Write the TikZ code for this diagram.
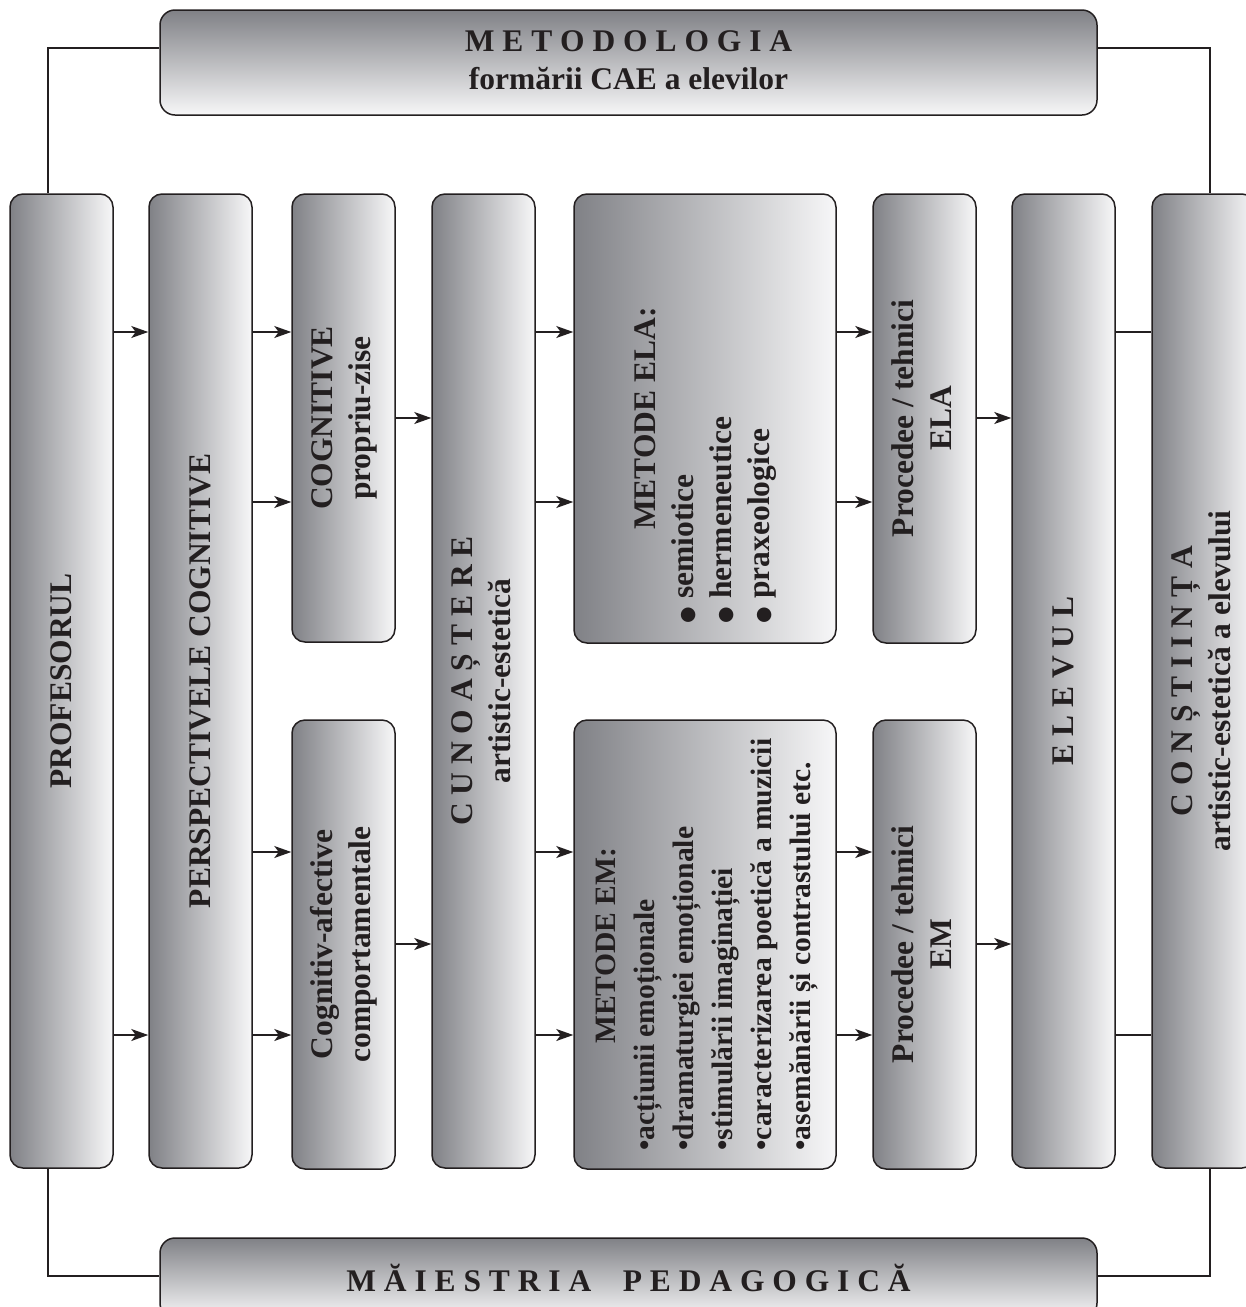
\documentclass[tikz,border=0pt]{standalone}
\usepackage{fontspec}
\setmainfont{Liberation Serif}
\newfontfamily\dejavu{DejaVu Sans}
\usepackage{graphicx}
\usetikzlibrary{arrows.meta}
\definecolor{ink}{RGB}{35,31,32}
\definecolor{gdark}{RGB}{128,129,134}
\definecolor{glight}{RGB}{247,247,248}
\newcommand{\fB}{\fontsize{31.5}{38}\selectfont\bfseries}
\newcommand{\fM}{\fontsize{29.6}{39}\selectfont\bfseries}
\newcommand{\bul}{{\dejavu\fontsize{19}{19}\selectfont ●}}
\begin{document}
\begin{tikzpicture}[x=1pt,y=-1pt,
  colbox/.style={draw=ink, line width=1.5pt, rounded corners=13pt,
    left color=gdark, right color=glight, inner sep=0pt, text=ink},
  hbox/.style={draw=ink, line width=1.5pt, rounded corners=15pt,
    top color=gdark, bottom color=glight, inner sep=0pt, text=ink},
  arr/.style={draw=ink, line width=1.4pt, -{Stealth[length=17pt,width=12pt,inset=4.5pt]}},
  ln/.style={draw=ink, line width=1.5pt}]
\useasboundingbox (0,0) rectangle (1246,1307);
\clip (0,0) rectangle (1246,1307);

% row coordinates
\coordinate (yA) at (0,332);
\coordinate (yB) at (0,502);
\coordinate (yC) at (0,418);
\coordinate (yD) at (0,852);
\coordinate (yE) at (0,1035);
\coordinate (yF) at (0,944);
\coordinate (tY) at (0,48);
\coordinate (bY) at (0,1276);
\coordinate (cL) at (48,0);
\coordinate (cR) at (1210,0);

% header and footer boxes
\node[hbox, minimum width=937pt, minimum height=105pt] (top) at (628.5,62.5)
  {\fB\begin{tabular}{@{}c@{}}M E T O D O L O G I A\\ formării CAE a elevilor\end{tabular}};
\node[hbox, minimum width=937pt, minimum height=80pt] (bot) at (628.5,1278)
  {\fB M Ă I E S T R I A\ \ \ \ P E D A G O G I C Ă};

% columns
\node[colbox, minimum width=103pt, minimum height=974pt] (prof) at (61.5,681)
  {\rotatebox{90}{\fB PROFESORUL}};
\node[colbox, minimum width=103pt, minimum height=974pt] (persp) at (200.5,681)
  {\rotatebox{90}{\fB PERSPECTIVELE COGNITIVE}};
\node[colbox, minimum width=103pt, minimum height=448pt] (cogA) at (343.5,418)
  {\rotatebox{90}{\fB\begin{tabular}{@{}c@{}}COGNITIVE\\ propriu-zise\end{tabular}}};
\node[colbox, minimum width=103pt, minimum height=449pt] (cogB) at (343.5,944.5)
  {\rotatebox{90}{\fB\begin{tabular}{@{}c@{}}Cognitiv-afective\\ comportamentale\end{tabular}}};
\node[colbox, minimum width=103pt, minimum height=974pt] (cuno) at (483.5,681)
  {\rotatebox{90}{\fB\begin{tabular}{@{}c@{}}C U N O A Ș T E R E\\ artistic-estetică\end{tabular}}};
\node[colbox, minimum width=262pt, minimum height=449pt] (ela) at (705,418.5)
  {\rotatebox{90}{\fB\begin{tabular}{@{}l@{}}\makebox[409pt][c]{METODE ELA:}\\
     \bul\ semiotice\\ \bul\ hermeneutice\\ \bul\ praxeologice\end{tabular}}};
\node[colbox, minimum width=262pt, minimum height=449pt] (em) at (705,944.5)
  {\rotatebox{90}{\fM\begin{tabular}{@{}l@{}}\makebox[409pt][c]{METODE EM:}\\
     •acțiunii emoționale\\ •dramaturgiei emoționale\\ •stimulării imaginației\\
     •caracterizarea poetică a muzicii\\ •asemănării și contrastului etc.\end{tabular}}};
\node[colbox, minimum width=103pt, minimum height=449pt] (procA) at (924.5,418.5)
  {\rotatebox{90}{\fB\begin{tabular}{@{}c@{}}Procedee / tehnici\\ ELA\end{tabular}}};
\node[colbox, minimum width=103pt, minimum height=449pt] (procB) at (924.5,944.5)
  {\rotatebox{90}{\fB\begin{tabular}{@{}c@{}}Procedee / tehnici\\ EM\end{tabular}}};
\node[colbox, minimum width=103pt, minimum height=974pt] (elev) at (1063.5,681)
  {\rotatebox{90}{\fB E L E V U L}};
\node[colbox, minimum width=103pt, minimum height=974pt] (cons) at (1203.5,681)
  {\rotatebox{90}{\fB\begin{tabular}{@{}c@{}}C O N Ș T I I N Ț A\\ artistic-estetică a elevului\end{tabular}}};

% frame connectors
\draw[ln] (top.west |- tY) -| (prof.north -| cL);
\draw[ln] (top.east |- tY) -| (cons.north -| cR);
\draw[ln] (prof.south -| cL) |- (bot.west |- bY);
\draw[ln] (cons.south -| cR) |- (bot.east |- bY);

% arrows
\draw[arr] (prof.east |- yA) -- (persp.west |- yA);
\draw[arr] (prof.east |- yE) -- (persp.west |- yE);
\draw[arr] (persp.east |- yA) -- (cogA.west |- yA);
\draw[arr] (persp.east |- yB) -- (cogA.west |- yB);
\draw[arr] (persp.east |- yD) -- (cogB.west |- yD);
\draw[arr] (persp.east |- yE) -- (cogB.west |- yE);
\draw[arr] (cogA.east |- yC) -- (cuno.west |- yC);
\draw[arr] (cogB.east |- yF) -- (cuno.west |- yF);
\draw[arr] (cuno.east |- yA) -- (ela.west |- yA);
\draw[arr] (cuno.east |- yB) -- (ela.west |- yB);
\draw[arr] (cuno.east |- yD) -- (em.west |- yD);
\draw[arr] (cuno.east |- yE) -- (em.west |- yE);
\draw[arr] (ela.east |- yA) -- (procA.west |- yA);
\draw[arr] (ela.east |- yB) -- (procA.west |- yB);
\draw[arr] (em.east |- yD) -- (procB.west |- yD);
\draw[arr] (em.east |- yE) -- (procB.west |- yE);
\draw[arr] (procA.east |- yC) -- (elev.west |- yC);
\draw[arr] (procB.east |- yF) -- (elev.west |- yF);
\draw[ln] (elev.east |- yA) -- (cons.west |- yA);
\draw[ln] (elev.east |- yE) -- (cons.west |- yE);
\end{tikzpicture}
\end{document}
